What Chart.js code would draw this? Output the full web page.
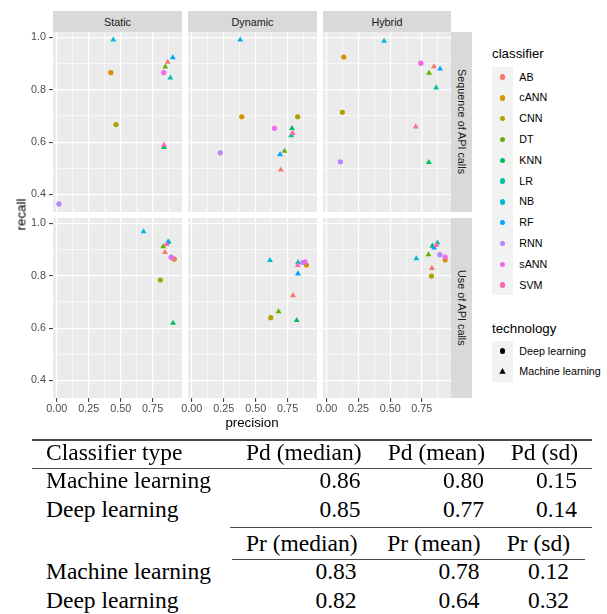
<!DOCTYPE html>
<html>
<head>
<meta charset="utf-8">
<script src="https://cdn.jsdelivr.net/npm/chart.js@4.4.1/dist/chart.umd.min.js"></script>
<style>
  body { margin: 0; background: #fff; width: 607px; height: 614px; position: relative; overflow: hidden;
         font-family: "Liberation Sans", Arial, sans-serif; }
  canvas { position: absolute; }
  .abs { position: absolute; white-space: nowrap; }
  .strip { position: absolute; background: #D9D9D9; color: #1A1A1A; font-size: 10.8px;
           display: flex; align-items: center; justify-content: center; }
  .vstrip { writing-mode: vertical-rl; }
  .tbl { position: absolute; white-space: nowrap; font-family: "Liberation Serif", "Times New Roman", serif;
         font-size: 23.5px; line-height: 23.5px; color: #000; }
  .rule { position: absolute; background: #4a4a4a; }
</style>
</head>
<body>
<script>
// classifiers and their technology
const classifiers = ['AB', 'cANN', 'CNN', 'DT', 'KNN', 'LR', 'NB', 'RF', 'RNN', 'sANN', 'SVM'];
const technology = ['Machine learning', 'Deep learning', 'Deep learning', 'Machine learning', 'Machine learning',
  'Machine learning', 'Machine learning', 'Machine learning', 'Deep learning', 'Deep learning', 'Machine learning'];
const technologies = ['Deep learning', 'Machine learning'];
const classColors = ['#F8766D', '#DB8E00', '#AEA200', '#64B200', '#00BD5C', '#00C1A7',
  '#00BADE', '#00A6FF', '#B385FF', '#EF67EB', '#FF63B6'];

const features = ['Static', 'Dynamic', 'Hybrid'];
const representations = ['Sequence of API calls', 'Use of API calls'];

// precision / recall per panel (same order as classifiers)
const seqStaticPrecision  = [0.868, 0.423, 0.463, 0.849, 0.839, 0.889, 0.442, 0.908, 0.016, 0.837, 0.839];
const seqStaticRecall     = [0.906, 0.866, 0.667, 0.888, 0.580, 0.846, 0.991, 0.923, 0.364, 0.866, 0.589];
const seqDynamicPrecision = [0.697, 0.391, 0.829, 0.726, 0.784, 0.778, 0.379, 0.691, 0.223, 0.647, 0.789];
const seqDynamicRecall    = [0.494, 0.697, 0.697, 0.566, 0.653, 0.625, 0.991, 0.553, 0.559, 0.653, 0.634];
const seqHybridPrecision  = [0.845, 0.134, 0.123, 0.807, 0.805, 0.863, 0.452, 0.894, 0.107, 0.742, 0.702];
const seqHybridRecall     = [0.889, 0.925, 0.714, 0.864, 0.523, 0.808, 0.986, 0.880, 0.525, 0.902, 0.659];
const useStaticPrecision  = [0.847, 0.920, 0.810, 0.833, 0.910, 0.876, 0.679, 0.868, 0.894, 0.905, 0.860];
const useStaticRecall     = [0.890, 0.864, 0.784, 0.912, 0.619, 0.930, 0.969, 0.928, 0.872, 0.868, 0.920];
const useDynamicPrecision = [0.792, 0.897, 0.618, 0.679, 0.821, 0.831, 0.612, 0.831, 0.868, 0.886, 0.829];
const useDynamicRecall    = [0.725, 0.841, 0.640, 0.663, 0.630, 0.851, 0.859, 0.808, 0.851, 0.853, 0.840];
const useHybridPrecision  = [0.829, 0.934, 0.826, 0.802, 0.833, 0.873, 0.707, 0.847, 0.892, 0.934, 0.863];
const useHybridRecall     = [0.829, 0.861, 0.799, 0.881, 0.914, 0.926, 0.866, 0.907, 0.881, 0.872, 0.917];

// axis ticks (major + minor gridlines)
const xTickValues = [0, 0.125, 0.25, 0.375, 0.5, 0.625, 0.75, 0.875];
const yTickValues = [0.4, 0.5, 0.6, 0.7, 0.8, 0.9, 1.0];

// summary table
const tableTypes = ['Machine learning', 'Deep learning'];
const pdHeaders = ['Pd (median)', 'Pd (mean)', 'Pd (sd)'];
const prHeaders = ['Pr (median)', 'Pr (mean)', 'Pr (sd)'];
const pdMedian = ['0.86', '0.85'];
const pdMean = ['0.80', '0.77'];
const pdSd = ['0.15', '0.14'];
const prMedian = ['0.83', '0.82'];
const prMean = ['0.78', '0.64'];
const prSd = ['0.12', '0.32'];

const panelData = [
  [[seqStaticPrecision, seqStaticRecall], [seqDynamicPrecision, seqDynamicRecall], [seqHybridPrecision, seqHybridRecall]],
  [[useStaticPrecision, useStaticRecall], [useDynamicPrecision, useDynamicRecall], [useHybridPrecision, useHybridRecall]]
];

const colLeft = [53, 188, 323];
const colWidth = [129, 129, 128];
const rowTop = [32, 218];
const panelH = 180;

const isMajorX = v => Math.abs(v * 4 - Math.round(v * 4)) < 1e-6;
const isMajorY = v => Math.round(v * 10) % 2 === 0;

const panelBg = {
  id: 'panelBg',
  beforeDraw(chart) {
    const a = chart.chartArea, ctx = chart.ctx;
    ctx.save();
    ctx.fillStyle = '#EBEBEB';
    ctx.fillRect(a.left, a.top, a.right - a.left, a.bottom - a.top);
    ctx.restore();
  }
};

const tickFont = { family: 'Liberation Sans', size: 10.8 };

function addDiv(cls, style, text) {
  const d = document.createElement('div');
  d.className = cls;
  Object.assign(d.style, style);
  if (text !== undefined) d.textContent = text;
  document.body.appendChild(d);
  return d;
}

function makePanel(row, col) {
  const [prec, rec] = panelData[row][col];
  const showY = col === 0;
  const showX = row === 1;
  const padL = showY ? 0 : (showX ? 14 : 0);
  const yAxisW = showY ? 53 : 0;
  const xAxisH = showX ? 20 : 0;

  const canvas = document.createElement('canvas');
  canvas.width = colWidth[col] + padL + yAxisW;
  canvas.height = panelH + xAxisH;
  canvas.style.left = (colLeft[col] - padL - yAxisW) + 'px';
  canvas.style.top = rowTop[row] + 'px';
  document.body.appendChild(canvas);

  new Chart(canvas, {
    type: 'scatter',
    data: {
      datasets: [{
        data: prec.map((p, i) => ({ x: p, y: rec[i] })),
        pointStyle: technology.map(t => t === 'Deep learning' ? 'circle' : 'triangle'),
        pointRadius: technology.map(t => t === 'Deep learning' ? 2.6 : 3.4),
        pointBackgroundColor: classColors,
        pointBorderWidth: 0,
        showLine: false
      }]
    },
    options: {
      responsive: false,
      animation: false,
      events: [],
      layout: { padding: { left: padL, right: 0, top: 0, bottom: 0 }, autoPadding: false },
      plugins: { legend: { display: false }, tooltip: { enabled: false } },
      scales: {
        x: {
          type: 'linear', min: -0.03, max: 0.98,
          afterBuildTicks: a => { a.ticks = xTickValues.map(v => ({ value: v })); },
          afterFit: s => { s.height = xAxisH; s.paddingLeft = 0; s.paddingRight = 0; },
          border: { display: false },
          grid: {
            color: '#FFFFFF',
            lineWidth: c => isMajorX(c.tick.value) ? 1.2 : 0.6,
            drawTicks: showX,
            tickLength: 4,
            tickColor: c => isMajorX(c.tick.value) ? '#333333' : 'rgba(0,0,0,0)',
            tickWidth: 1
          },
          ticks: {
            display: showX, autoSkip: false, maxRotation: 0, padding: 1,
            color: '#4D4D4D', font: tickFont,
            callback: v => isMajorX(v) ? v.toFixed(2) : ''
          }
        },
        y: {
          type: 'linear', min: 0.333, max: 1.021,
          afterBuildTicks: a => { a.ticks = yTickValues.map(v => ({ value: v })); },
          afterFit: s => { s.width = yAxisW; s.paddingTop = 0; s.paddingBottom = 0; },
          border: { display: false },
          grid: {
            color: '#FFFFFF',
            lineWidth: c => isMajorY(c.tick.value) ? 1.2 : 0.6,
            drawTicks: showY,
            tickLength: 4,
            tickColor: c => isMajorY(c.tick.value) ? '#333333' : 'rgba(0,0,0,0)',
            tickWidth: 1
          },
          ticks: {
            display: showY, autoSkip: false, padding: 3,
            color: '#4D4D4D', font: tickFont,
            callback: v => isMajorY(v) ? v.toFixed(1) : ''
          }
        }
      }
    },
    plugins: [panelBg]
  });
}

for (let r = 0; r < 2; r++) for (let c = 0; c < 3; c++) makePanel(r, c);

// facet strips
features.forEach((f, c) => addDiv('strip', { left: colLeft[c] + 'px', top: '11px', width: colWidth[c] + 'px', height: '21px' }, f));
representations.forEach((rp, r) => addDiv('strip vstrip', { left: '451px', top: rowTop[r] + 'px', width: '21px', height: panelH + 'px' }, rp));

// axis titles
addDiv('abs', { left: '13px', top: '207px', fontSize: '13.3px', color: '#000', transform: 'rotate(-90deg)', transformOrigin: 'center', width: '40px', textAlign: 'center', marginLeft: '-12px' }, 'recall');
addDiv('abs', { left: '202px', width: '100px', textAlign: 'center', top: '415px', fontSize: '13.3px', color: '#000' }, 'precision');

// legend: classifier
addDiv('abs', { left: '492px', top: '46px', fontSize: '13.3px', color: '#000' }, 'classifier');
addDiv('abs', { left: '492px', top: '66.7px', width: '21px', height: (classifiers.length * 20.8) + 'px', background: '#F2F2F2' });
classifiers.forEach((name, i) => {
  const cy = 77.1 + 20.8 * i;
  addDiv('abs', { left: '499.7px', top: (cy - 2.8) + 'px', width: '5.6px', height: '5.6px', borderRadius: '50%', background: classColors[i] });
  addDiv('abs', { left: '519.3px', top: (cy - 6.5) + 'px', fontSize: '10.7px', lineHeight: '13px', color: '#000' }, name);
});

// legend: technology
addDiv('abs', { left: '492px', top: '320.5px', fontSize: '13.3px', color: '#000' }, 'technology');
addDiv('abs', { left: '492px', top: '341px', width: '21px', height: '40.6px', background: '#F2F2F2' });
technologies.forEach((name, i) => {
  const cy = 351.2 + 20.3 * i;
  if (name === 'Deep learning') {
    addDiv('abs', { left: '499.7px', top: (cy - 2.8) + 'px', width: '5.6px', height: '5.6px', borderRadius: '50%', background: '#000' });
  } else {
    addDiv('abs', { left: '499.3px', top: (cy - 3.4) + 'px', width: '6.4px', height: '5.6px', background: '#000', clipPath: 'polygon(50% 0, 100% 100%, 0 100%)' });
  }
  addDiv('abs', { left: '519.3px', top: (cy - 6.5) + 'px', fontSize: '10.7px', lineHeight: '13px', color: '#000' }, name);
});

// summary table (baseline positions)
const BASE_OFF = 19.7;
function cell(text, x, base, align) {
  const st = { top: (base - BASE_OFF) + 'px' };
  if (align === 'right') st.right = (607 - x) + 'px'; else st.left = x + 'px';
  addDiv('tbl', st, text);
}
function rule(x1, x2, y, h) {
  addDiv('rule', { left: x1 + 'px', width: (x2 - x1) + 'px', top: y + 'px', height: h + 'px' });
}

rule(32, 592, 439.3, 1.6);
cell('Classifier type', 46, 460.5, 'left');
const pdRight = [361.5, 485, 578];
pdHeaders.forEach((h, j) => cell(h, pdRight[j], 460.5, 'right'));
rule(32, 592, 468.2, 1.1);
const pdCols = [pdMedian, pdMean, pdSd];
tableTypes.forEach((t, i) => {
  const base = 489 + 28.3 * i;
  cell(t, 46, base, 'left');
  pdCols.forEach((col, j) => cell(col[i], pdRight[j] - 1, base, 'right'));
});
rule(230, 592, 527.2, 1.1);
const prRight = [357.5, 480.5, 570];
prHeaders.forEach((h, j) => cell(h, prRight[j], 551.3, 'right'));
rule(232, 585, 558.8, 1.1);
const prCols = [prMedian, prMean, prSd];
tableTypes.forEach((t, i) => {
  const base = 580 + 28.3 * i;
  cell(t, 46, base, 'left');
  prCols.forEach((col, j) => cell(col[i], prRight[j] - 1, base, 'right'));
});
</script>
</body>
</html>
